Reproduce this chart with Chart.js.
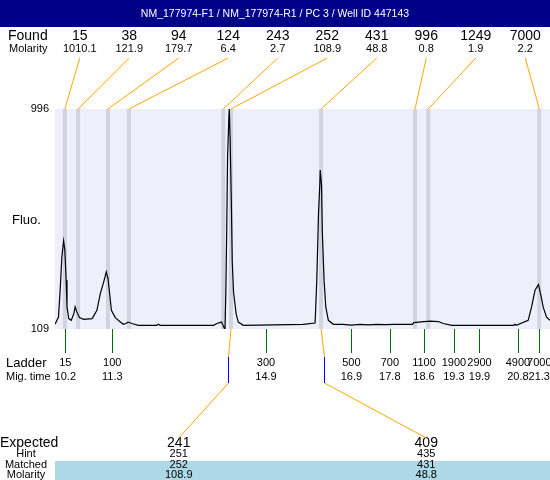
<!DOCTYPE html>
<html>
<head>
<meta charset="utf-8">
<script src="https://cdn.jsdelivr.net/npm/chart.js@4.4.1/dist/chart.umd.min.js"></script>
<style>
  html, body { margin: 0; padding: 0; background: #ffffff; }
  #wrap { width: 550px; height: 480px; }
</style>
</head>
<body>
<div id="wrap"><canvas id="c" width="550" height="480"></canvas></div>
<script>
// ---------- DATA ----------
const titleText = 'NM_177974-F1 / NM_177974-R1 / PC 3 / Well ID 447143';

// Electropherogram trace: migration time (s) and fluorescence
const traceTimes = [9.96, 10.04, 10.08, 10.12, 10.16, 10.19, 10.22, 10.24, 10.28, 10.34,
  10.40, 10.43, 10.47, 10.53, 10.63, 10.83, 10.94, 11.02, 11.10, 11.16,
  11.20, 11.23, 11.28, 11.37, 11.49, 11.56, 11.62, 11.67, 11.76, 11.91,
  12.34, 12.38, 12.42, 13.67, 13.75, 13.86, 13.92, 13.94, 13.96, 13.98,
  14.00, 14.03, 14.04, 14.06, 14.09, 14.11, 14.14, 14.20, 14.25, 14.37,
  15.77, 16.05, 16.09, 16.13, 16.16, 16.17, 16.20, 16.22, 16.26, 16.30,
  16.36, 16.48, 16.70, 16.90, 17.10, 17.30, 17.50, 17.70, 17.90, 18.10,
  18.33, 18.36, 18.60, 18.74, 18.94, 19.05, 19.25, 20.70, 20.73, 20.76,
  21.04, 21.12, 21.20, 21.28, 21.33, 21.39, 21.47, 21.55];
const traceValues = [128, 157, 265, 400, 464, 427, 306, 198, 151, 144,
  171, 198, 178, 155, 148, 151, 184, 252, 299, 339,
  312, 265, 184, 155, 137, 128, 131, 137, 131, 124,
  124, 128, 124, 124, 131, 137, 113, 109, 258, 501,
  798, 960, 996, 879, 608, 379, 258, 171, 137, 124,
  128, 133, 306, 576, 689, 750, 689, 495, 306, 198,
  144, 128, 128, 125, 128, 126, 128, 127, 128, 128,
  128, 135, 139, 141, 139, 131, 124, 124, 128, 124,
  144, 198, 265, 288, 252, 198, 157, 144];

const yTickValues = [109, 996];

// Found peaks
const foundSizes = ['15', '38', '94', '124', '243', '252', '431', '996', '1249', '7000'];
const foundMolarity = ['1010.1', '121.9', '179.7', '6.4', '2.7', '108.9', '48.8', '0.8', '1.9', '2.2'];
const foundTimes = [10.19, 10.50, 11.20, 11.69, 13.90, 14.08, 16.19, 18.39, 18.70, 21.30];

// Ladder
const ladderSizes = ['15', '100', '300', '500', '700', '1100', '1900', '2900', '4900', '7000'];
const ladderTimes = [10.2, 11.3, 14.9, 16.9, 17.8, 18.6, 19.3, 19.9, 20.8, 21.3];

// Expected products
const expectedSizes = ['241', '409'];
const hintSizes = ['251', '435'];
const hintTimes = [14.01, 16.25];
const matchedSizes = ['252', '431'];
const matchedTimes = [14.08, 16.19];
const matchedMolarity = ['108.9', '48.8'];

// ---------- STYLE ----------
const FONT = '"Liberation Sans", Arial, sans-serif';
const ORANGE = '#FFA500';
const GREEN = '#007000';
const expectedColumns = [2, 7];

const overlay = {
  id: 'overlay',
  beforeDatasetsDraw(chart) {
    const { ctx, chartArea: a, scales: { x } } = chart;
    ctx.save();
    ctx.fillStyle = '#EFEFFC';
    ctx.fillRect(a.left, a.top, a.right - a.left, a.bottom - a.top);
    ctx.fillStyle = '#D2D2E0';
    const hw = 0.047;
    foundTimes.forEach(t => {
      const x0 = x.getPixelForValue(t - hw), x1 = x.getPixelForValue(t + hw);
      ctx.fillRect(x0, a.top, x1 - x0, a.bottom - a.top);
    });
    ctx.restore();
  },
  afterDraw(chart) {
    const { ctx, chartArea: a, scales: { x } } = chart;
    const colW = (a.right - a.left) / 10;
    const colX = i => a.left + (i + 0.5) * colW;
    ctx.save();
    // title bar
    ctx.fillStyle = '#000088';
    ctx.fillRect(0, 0, chart.width, 27);
    ctx.fillStyle = '#ffffff';
    ctx.font = '10.5px ' + FONT;
    ctx.textAlign = 'center';
    ctx.textBaseline = 'middle';
    ctx.fillText(titleText, chart.width / 2, 14);

    ctx.fillStyle = '#000000';
    // Found rows
    ctx.textAlign = 'left';
    ctx.font = '14px ' + FONT;
    ctx.fillText('Found', 8, 36);
    ctx.font = '11px ' + FONT;
    ctx.fillText('Molarity', 9, 49);
    ctx.textAlign = 'center';
    foundSizes.forEach((s, i) => {
      ctx.font = '14px ' + FONT;
      ctx.fillText(s, colX(i), 36);
      ctx.font = '11px ' + FONT;
      ctx.fillText(foundMolarity[i], colX(i), 49);
    });
    // connectors
    ctx.strokeStyle = ORANGE;
    ctx.lineWidth = 1;
    foundTimes.forEach((t, i) => {
      ctx.beginPath();
      ctx.moveTo(colX(i), 58);
      ctx.lineTo(x.getPixelForValue(t), a.top);
      ctx.stroke();
    });

    // Fluo. label
    ctx.textAlign = 'left';
    ctx.font = '13px ' + FONT;
    ctx.fillText('Fluo.', 12, 220);

    // Ladder
    ctx.strokeStyle = GREEN;
    ladderTimes.forEach(t => {
      const px = Math.round(x.getPixelForValue(t)) + 0.5;
      ctx.beginPath();
      ctx.moveTo(px, a.bottom);
      ctx.lineTo(px, 353);
      ctx.stroke();
    });
    ctx.font = '13px ' + FONT;
    ctx.fillText('Ladder', 6, 363);
    ctx.font = '11px ' + FONT;
    ctx.fillText('Mig. time', 6, 377);
    ctx.textAlign = 'center';
    ladderTimes.forEach((t, i) => {
      const px = x.getPixelForValue(t);
      ctx.fillText(ladderSizes[i], px, 363);
      ctx.fillText(t.toFixed(1), px, 377);
    });

    // Expected section
    ctx.fillStyle = '#ADD8E6';
    ctx.fillRect(a.left, 461, a.right - a.left, 19);
    ctx.fillStyle = '#000000';
    ctx.textAlign = 'left';
    ctx.font = '14px ' + FONT;
    ctx.fillText('Expected', 0, 443);
    ctx.textAlign = 'center';
    ctx.font = '11px ' + FONT;
    ctx.fillText('Hint', 26, 454);
    ctx.fillText('Matched', 26, 465);
    ctx.fillText('Molarity', 26, 475);
    expectedSizes.forEach((s, i) => {
      const cx = colX(expectedColumns[i]);
      ctx.font = '14px ' + FONT;
      ctx.fillText(s, cx, 443);
      ctx.font = '11px ' + FONT;
      ctx.fillText(hintSizes[i], cx, 454);
      ctx.fillText(matchedSizes[i], cx, 465);
      ctx.fillText(matchedMolarity[i], cx, 475);
      const mx = x.getPixelForValue(matchedTimes[i]);
      const hx = Math.round(x.getPixelForValue(hintTimes[i])) + 0.5;
      ctx.strokeStyle = ORANGE;
      ctx.beginPath();
      ctx.moveTo(mx, a.bottom);
      ctx.lineTo(hx, 357);
      ctx.stroke();
      ctx.beginPath();
      ctx.moveTo(hx, 383);
      ctx.lineTo(cx, 438);
      ctx.stroke();
      ctx.strokeStyle = '#0000FF';
      ctx.beginPath();
      ctx.moveTo(hx, 357);
      ctx.lineTo(hx, 383);
      ctx.stroke();
    });
    ctx.restore();
  }
};

new Chart(document.getElementById('c'), {
  type: 'line',
  data: {
    datasets: [{
      data: traceTimes.map((t, i) => ({ x: t, y: traceValues[i] })),
      borderColor: '#000000',
      borderWidth: 1.2,
      pointRadius: 0,
      tension: 0,
      fill: false
    }]
  },
  options: {
    responsive: false,
    animation: false,
    events: [],
    layout: { padding: { top: 109, bottom: 151, left: 0, right: 0 } },
    plugins: { legend: { display: false }, tooltip: { enabled: false }, title: { display: false } },
    scales: {
      x: { type: 'linear', min: 9.959, max: 21.551, display: false },
      y: {
        type: 'linear', min: 109, max: 996,
        grid: { display: false, drawTicks: false },
        border: { display: false },
        afterBuildTicks: s => { s.ticks = yTickValues.map(v => ({ value: v })); },
        afterFit: s => { s.width = 55; },
        ticks: { color: '#000000', padding: 6, font: { family: FONT, size: 11 } }
      }
    }
  },
  plugins: [overlay]
});
</script>
</body>
</html>
